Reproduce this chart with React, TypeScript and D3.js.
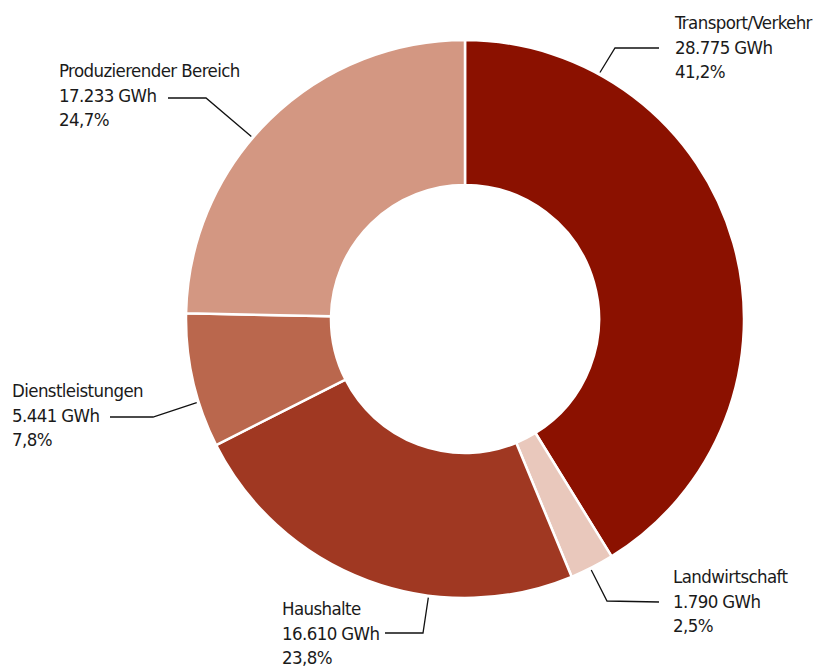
import React from "react";
import * as d3 from "d3";

if (typeof document !== "undefined") document.body.style.margin = "0";

const categories = ["Transport/Verkehr", "Landwirtschaft", "Haushalte", "Dienstleistungen", "Produzierender Bereich"];
const valuesGWh = [28775, 1790, 16610, 5441, 17233];
const percentages = [41.2, 2.5, 23.8, 7.8, 24.7];
const colors = ["#8b1100", "#e9c8bc", "#a03822", "#ba674d", "#d39782"];

// label layout: anchor angle (deg, clockwise from top), elbow, horizontal end, text anchor position
const labelLayout = [
  { angle: 28.7, elbow: [615, 48], end: [659, 48], text: [675, 29] },
  { angle: 153.3, elbow: [607, 601], end: [659, 602], text: [673, 583] },
  { angle: 187.5, elbow: [423, 633], end: [385, 633], text: [282, 615] },
  { angle: 252.7, elbow: [153, 417], end: [110, 417], text: [12, 397] },
  { angle: 310.5, elbow: [206, 98], end: [168, 98], text: [59, 77] },
];

const W = 827, H = 668;
const cx = 465, cy = 319, outerR = 279, innerR = 134;

const de = d3.formatLocale({ decimal: ",", thousands: ".", grouping: [3], currency: ["", "€"] });
const fmtInt = de.format(",d");
const fmtPct = de.format(".1f");

export default function App() {
  const pie = d3.pie<number>().sort(null).value((d) => d)(valuesGWh);
  const arc = d3.arc<d3.PieArcDatum<number>>().innerRadius(innerR).outerRadius(outerR);
  const font = "'Liberation Sans Narrow', 'DejaVu Sans Condensed', sans-serif";
  return (
    <svg width={W} height={H} style={{ display: "block" }}>
      <g transform={`translate(${cx},${cy})`}>
        {pie.map((p, i) => (
          <path key={i} d={arc(p) || ""} fill={colors[i]} stroke="#fff" strokeWidth={2.5} strokeLinejoin="round" />
        ))}
      </g>
      {labelLayout.map((l, i) => {
        const a = (l.angle * Math.PI) / 180;
        const r = outerR + 2;
        const sx = cx + r * Math.sin(a);
        const sy = cy - r * Math.cos(a);
        const pts: [number, number][] = [[sx, sy], l.elbow as [number, number], l.end as [number, number]];
        const line = d3.line();
        const lines = [categories[i], `${fmtInt(valuesGWh[i])} GWh`, `${fmtPct(percentages[i])}%`];
        return (
          <g key={i}>
            <path d={line(pts) || ""} fill="none" stroke="#111" strokeWidth={1.3} />
            <text x={l.text[0]} y={l.text[1]} fontFamily={font} fontSize={18.5} letterSpacing={-0.6} fill="#1a1a1a">
              {lines.map((t, j) => (
                <tspan key={j} x={l.text[0]} dy={j === 0 ? 0 : 24.5}>{t}</tspan>
              ))}
            </text>
          </g>
        );
      })}
    </svg>
  );
}
